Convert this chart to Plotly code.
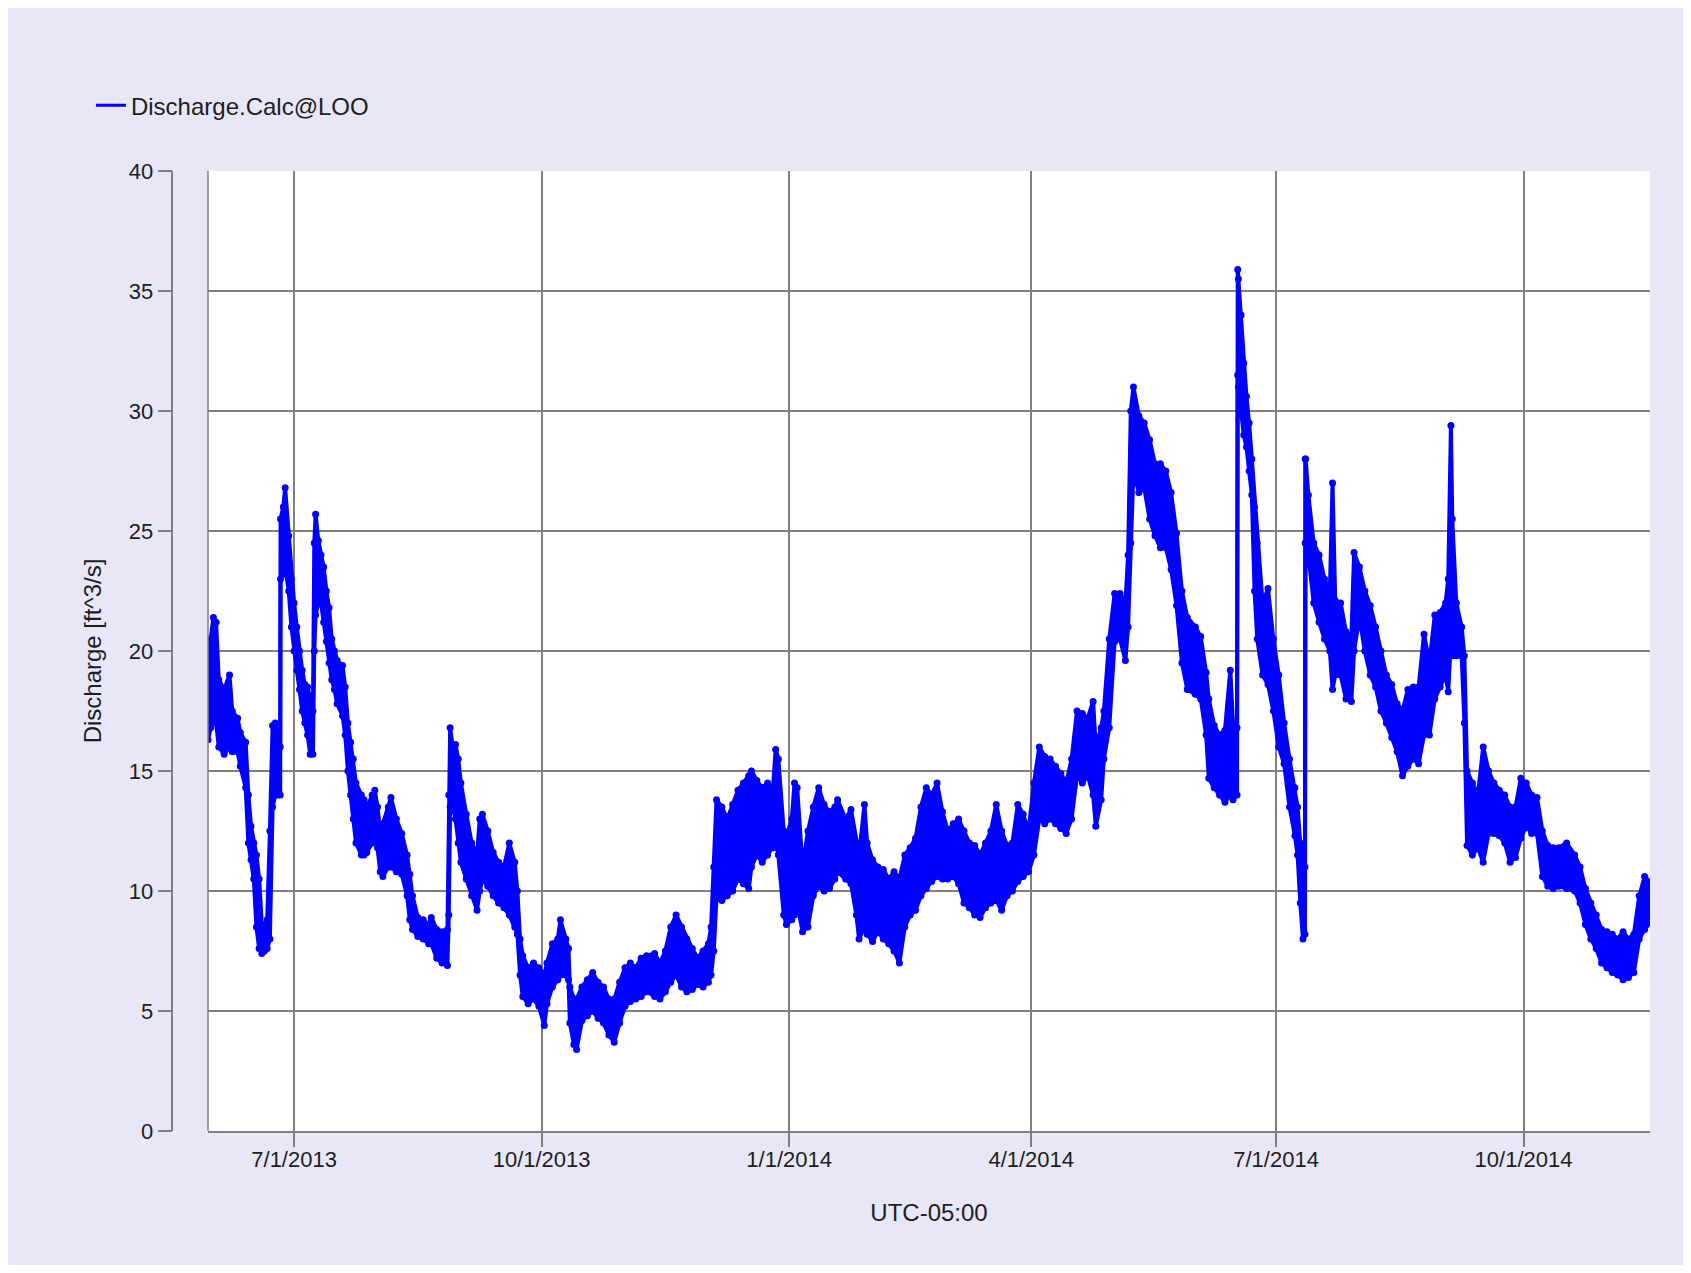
import plotly.graph_objects as go

# Discharge envelope (upper / lower of the daily swing)
dates = [
    "2013-05-30", "2013-05-31", "2013-06-01", "2013-06-02", "2013-06-03", "2013-06-05", "2013-06-07", "2013-06-08",
    "2013-06-10", "2013-06-11", "2013-06-13", "2013-06-14", "2013-06-15", "2013-06-16", "2013-06-17", "2013-06-18",
    "2013-06-19", "2013-06-20", "2013-06-21", "2013-06-22", "2013-06-23", "2013-06-24", "2013-06-25",
    "2013-06-25 20:00", "2013-06-25 23:00", "2013-06-27", "2013-06-27 16:00", "2013-06-29", "2013-06-30",
    "2013-07-01", "2013-07-02", "2013-07-03", "2013-07-04", "2013-07-05", "2013-07-06", "2013-07-07", "2013-07-08",
    "2013-07-08 12:00", "2013-07-09", "2013-07-10", "2013-07-11", "2013-07-12", "2013-07-13", "2013-07-14",
    "2013-07-15", "2013-07-16", "2013-07-17", "2013-07-19", "2013-07-20", "2013-07-21", "2013-07-22", "2013-07-23",
    "2013-07-24", "2013-07-26", "2013-07-27", "2013-07-28", "2013-07-30", "2013-07-31",
    "2013-08-01", "2013-08-02", "2013-08-03", "2013-08-05", "2013-08-06", "2013-08-08", "2013-08-10", "2013-08-12",
    "2013-08-13", "2013-08-14", "2013-08-16", "2013-08-18", "2013-08-20", "2013-08-21", "2013-08-23", "2013-08-25",
    "2013-08-27", "2013-08-27 12:00", "2013-08-28", "2013-08-29", "2013-08-30", "2013-08-31",
    "2013-09-01", "2013-09-03", "2013-09-05", "2013-09-07", "2013-09-08", "2013-09-09", "2013-09-11", "2013-09-13",
    "2013-09-15", "2013-09-17", "2013-09-19", "2013-09-21", "2013-09-22", "2013-09-23", "2013-09-24", "2013-09-26",
    "2013-09-28", "2013-09-30",
    "2013-10-02", "2013-10-03", "2013-10-05", "2013-10-07", "2013-10-08", "2013-10-10", "2013-10-11",
    "2013-10-11 12:00", "2013-10-13", "2013-10-14", "2013-10-16", "2013-10-18", "2013-10-20", "2013-10-22",
    "2013-10-24", "2013-10-26", "2013-10-28", "2013-10-30",
    "2013-11-01", "2013-11-03", "2013-11-05", "2013-11-07", "2013-11-09", "2013-11-12", "2013-11-14", "2013-11-16",
    "2013-11-18", "2013-11-20", "2013-11-22", "2013-11-24", "2013-11-26", "2013-11-28", "2013-11-30",
    "2013-12-02", "2013-12-03", "2013-12-04", "2013-12-05", "2013-12-07", "2013-12-09", "2013-12-11", "2013-12-13",
    "2013-12-15", "2013-12-17", "2013-12-18", "2013-12-20", "2013-12-22", "2013-12-24", "2013-12-26", "2013-12-27",
    "2013-12-28", "2013-12-30", "2013-12-31",
    "2014-01-02", "2014-01-03", "2014-01-04", "2014-01-06", "2014-01-08", "2014-01-10", "2014-01-12", "2014-01-14",
    "2014-01-16", "2014-01-18", "2014-01-19", "2014-01-22", "2014-01-24", "2014-01-26", "2014-01-27", "2014-01-29",
    "2014-01-30",
    "2014-02-01", "2014-02-03", "2014-02-05", "2014-02-07", "2014-02-09", "2014-02-11", "2014-02-13", "2014-02-15",
    "2014-02-17", "2014-02-19", "2014-02-21", "2014-02-23", "2014-02-25", "2014-02-27",
    "2014-03-01", "2014-03-03", "2014-03-05", "2014-03-07", "2014-03-09", "2014-03-11", "2014-03-13", "2014-03-15",
    "2014-03-17", "2014-03-19", "2014-03-21", "2014-03-23", "2014-03-25", "2014-03-27", "2014-03-29", "2014-03-31",
    "2014-04-02", "2014-04-04", "2014-04-06", "2014-04-08", "2014-04-10", "2014-04-12", "2014-04-14", "2014-04-16",
    "2014-04-18", "2014-04-20", "2014-04-22", "2014-04-24", "2014-04-25", "2014-04-27", "2014-04-28", "2014-04-30",
    "2014-05-02", "2014-05-04", "2014-05-06", "2014-05-07", "2014-05-08", "2014-05-09", "2014-05-11", "2014-05-13",
    "2014-05-15", "2014-05-17", "2014-05-19", "2014-05-21", "2014-05-23", "2014-05-25", "2014-05-27", "2014-05-29",
    "2014-06-01", "2014-06-03", "2014-06-05", "2014-06-06", "2014-06-08", "2014-06-10", "2014-06-12", "2014-06-14",
    "2014-06-15", "2014-06-16 12:00", "2014-06-16 18:00", "2014-06-17", "2014-06-18", "2014-06-19", "2014-06-20",
    "2014-06-21", "2014-06-22", "2014-06-23", "2014-06-24", "2014-06-26", "2014-06-28", "2014-06-30",
    "2014-07-02", "2014-07-04", "2014-07-06", "2014-07-08", "2014-07-09", "2014-07-10", "2014-07-11",
    "2014-07-11 18:00", "2014-07-11 20:00", "2014-07-12", "2014-07-13", "2014-07-15", "2014-07-17", "2014-07-19",
    "2014-07-21", "2014-07-22", "2014-07-23", "2014-07-25", "2014-07-27", "2014-07-29", "2014-07-30",
    "2014-08-01", "2014-08-03", "2014-08-05", "2014-08-07", "2014-08-09", "2014-08-11", "2014-08-13", "2014-08-15",
    "2014-08-17", "2014-08-19", "2014-08-21", "2014-08-23", "2014-08-25", "2014-08-27", "2014-08-29", "2014-08-31",
    "2014-09-02", "2014-09-03", "2014-09-04 00:00", "2014-09-04 12:00", "2014-09-06", "2014-09-08", "2014-09-09",
    "2014-09-10", "2014-09-12", "2014-09-14", "2014-09-16", "2014-09-18", "2014-09-20", "2014-09-22", "2014-09-24",
    "2014-09-26", "2014-09-28", "2014-09-30",
    "2014-10-02", "2014-10-04", "2014-10-06", "2014-10-08", "2014-10-10", "2014-10-12", "2014-10-14", "2014-10-17",
    "2014-10-20", "2014-10-22", "2014-10-24", "2014-10-26", "2014-10-28", "2014-10-30",
    "2014-11-01", "2014-11-03", "2014-11-05", "2014-11-07", "2014-11-09", "2014-11-11", "2014-11-13", "2014-11-15",
    "2014-11-18",
]

q_high = [
    20.0, 20.5, 21.4, 21.2, 18.8, 18.4, 19.0, 17.5, 17.2, 16.6, 16.2, 14.0, 12.7, 12.0, 11.5, 10.5,
    8.6, 8.3, 8.8, 12.5, 16.9, 17.0, 16.5, 16.0, 25.5, 26.0, 26.8, 24.8, 23.0,
    22.0, 21.0, 20.0, 19.2, 18.6, 18.5, 18.0, 17.5, 24.5, 25.7, 24.6, 24.0, 23.5, 22.5, 21.8,
    20.5, 20.0, 19.6, 19.4, 18.5, 17.0, 16.2, 15.5, 14.5, 14.0, 13.8, 13.5, 14.0, 14.2,
    13.5, 12.5, 12.8, 13.5, 13.9, 13.0, 12.4, 11.5, 10.7, 9.8, 8.9, 8.8, 8.6, 8.9, 8.4, 8.3,
    8.4, 14.0, 16.8, 16.0, 16.1, 15.5,
    14.5, 13.2, 12.0, 11.5, 13.0, 13.2, 12.5, 11.6, 11.2, 11.0, 12.0, 11.2, 10.0, 8.0, 7.3, 6.8,
    7.0, 6.8,
    6.5, 7.0, 7.8, 8.0, 8.8, 8.0, 7.6, 6.0, 5.5, 5.5, 6.0, 6.3, 6.6, 6.2, 6.0, 5.5, 5.5, 6.2,
    6.8, 7.0, 6.8, 7.2, 7.3, 7.4, 7.0, 7.5, 8.5, 9.0, 8.5, 8.0, 7.6, 7.2, 7.5,
    7.8, 8.5, 11.0, 13.8, 13.5, 13.0, 13.6, 14.2, 14.5, 14.8, 15.0, 14.6, 14.3, 14.5, 14.3, 15.9,
    15.5, 12.5, 12.3,
    13.0, 14.5, 14.3, 11.0, 12.5, 13.5, 14.3, 13.6, 13.3, 13.5, 13.8, 13.0, 13.4, 12.0, 11.5, 13.6,
    12.0,
    11.3, 11.0, 10.9, 10.5, 10.8, 10.5, 11.5, 11.8, 12.2, 13.5, 14.3, 14.0, 14.5, 13.3,
    12.5, 12.8, 13.0, 12.5, 12.0, 11.9, 11.5, 12.0, 12.5, 13.6, 12.5, 11.9, 12.0, 13.6, 13.2, 12.5,
    14.5, 16.0, 15.6, 15.5, 15.2, 14.9, 14.5, 15.5, 17.5, 17.4, 17.2, 17.9, 16.0, 16.8, 17.5, 20.5,
    22.4, 22.4, 22.0, 24.0, 30.0, 31.0, 29.8, 29.5, 28.8, 27.8, 27.8, 27.5, 26.6, 24.9, 22.5, 21.4,
    21.0, 20.6, 19.1, 18.0, 16.9, 16.5, 16.7, 19.2, 17.0, 16.8, 35.9, 35.5, 34.0, 32.0, 30.6,
    29.5, 28.0, 26.0, 24.5, 22.0, 22.6, 20.5,
    19.0, 17.0, 15.5, 14.3, 13.5, 12.0, 11.4, 11.0, 28.0, 28.0, 26.5, 24.5, 24.0, 23.0,
    22.5, 27.0, 22.1, 22.0, 20.8, 20.6, 24.1,
    23.5, 22.5, 21.9, 21.0, 20.0, 19.0, 18.6, 17.8, 17.5, 18.4, 18.5, 18.5, 20.7, 19.5, 21.5, 21.6,
    22.0, 23.0, 29.4, 25.5, 22.0, 21.0, 19.8, 15.0, 14.5, 14.0, 16.0, 15.0, 14.5, 14.2, 14.0,
    13.5, 13.5, 14.7,
    14.5, 14.0, 13.9, 12.5, 11.9, 11.8, 11.8, 12.0, 11.5, 11.0, 10.1, 9.5, 9.0, 8.4,
    8.3, 8.2, 8.0, 8.3, 8.0, 8.2, 9.8, 10.6, 10.3,
]

q_low = [
    16.3, 16.8, 17.3, 17.0, 16.0, 15.7, 16.0, 15.8, 15.8, 15.2, 14.3, 12.0, 11.3, 10.5, 8.5, 7.6,
    7.4, 7.5, 7.6, 8.0, 13.5, 14.0, 14.0, 14.0, 23.0, 23.2, 23.5, 22.5, 21.0,
    20.0, 19.2, 18.4, 17.5, 17.0, 16.5, 15.7, 15.7, 20.0, 21.5, 22.0, 22.0, 21.2, 20.4, 19.5,
    18.8, 18.4, 17.8, 17.3, 16.5, 15.0, 14.0, 13.0, 12.0, 11.5, 11.5, 11.6, 12.0, 12.2,
    11.8, 10.8, 10.6, 11.0, 11.0, 10.8, 10.7, 9.8, 8.8, 8.4, 8.1, 8.0, 7.8, 7.8, 7.2, 7.0,
    6.9, 9.0, 13.5, 13.5, 13.0, 12.0,
    11.2, 10.5, 9.8, 9.2, 10.0, 10.5, 10.2, 9.8, 9.5, 9.3, 9.0, 8.5, 8.2, 6.5, 5.6, 5.3,
    5.5, 5.2,
    4.4, 5.3, 6.0, 6.3, 6.5, 6.5, 6.3, 4.5, 3.6, 3.4, 4.6, 4.8, 5.0, 4.7, 4.5, 4.0, 3.7, 4.5,
    5.2, 5.4, 5.5, 5.6, 5.8, 5.6, 5.5, 5.8, 6.2, 6.5, 6.0, 5.8, 5.9, 6.1, 6.0,
    6.2, 6.5, 7.5, 9.7, 9.6, 9.8, 10.0, 10.5, 10.3, 10.1, 11.0, 11.5, 11.2, 11.5, 11.8, 12.0,
    11.5, 9.0, 8.6,
    8.8, 9.0, 9.5, 8.3, 8.5, 9.8, 10.2, 10.0, 10.1, 10.5, 10.8, 10.5, 10.3, 9.0, 8.0, 8.5,
    8.2,
    7.9, 8.3, 8.0, 7.8, 7.5, 7.0, 8.5, 9.0, 9.2, 9.8, 10.1, 10.4, 10.6, 10.5,
    10.5, 10.6, 10.3, 9.5, 9.3, 9.0, 8.9, 9.3, 9.5, 9.6, 9.2, 9.8, 10.0, 10.4, 10.6, 10.8,
    11.5, 13.0, 12.8, 13.0, 12.8, 12.6, 12.4, 13.0, 14.8, 14.5, 14.8, 14.0, 12.7, 13.8, 15.5, 16.8,
    20.4, 20.5, 19.6, 21.0, 24.5, 27.5, 26.6, 26.8, 25.5, 24.8, 24.3, 24.3, 23.4, 21.9, 19.5, 18.4,
    18.2, 18.0, 16.5, 14.7, 14.3, 14.0, 13.7, 14.0, 13.8, 14.0, 31.5, 31.0, 30.0, 29.0, 28.5,
    27.5, 26.5, 22.5, 20.5, 19.0, 18.6, 17.5,
    16.0, 15.3, 13.5, 12.3, 11.5, 9.5, 8.0, 8.2, 24.5, 24.5, 24.0, 22.0, 21.2, 20.5,
    20.0, 18.4, 19.0, 19.0, 18.0, 17.9, 20.0,
    21.4, 20.0, 19.0, 18.5, 17.5, 17.0, 16.4, 15.8, 14.8, 15.2, 15.5, 15.3, 16.5, 16.5, 18.0, 18.5,
    19.0, 18.3, 20.5, 19.8, 19.8, 19.8, 17.0, 11.9, 11.5, 11.8, 11.2, 12.4, 12.4, 12.3, 12.0,
    11.2, 11.4, 12.2,
    12.7, 12.4, 12.4, 10.6, 10.2, 10.1, 10.2, 10.1, 10.0, 9.5, 8.6, 8.0, 7.6, 7.0,
    6.8, 6.6, 6.5, 6.3, 6.4, 6.6, 8.0, 8.4, 8.8,
]

assert len(dates) == len(q_high) == len(q_low), (len(dates), len(q_high), len(q_low))

tick_dates = ["2013-07-01", "2013-10-01", "2014-01-01", "2014-04-01", "2014-07-01", "2014-10-01"]
tick_labels = ["7/1/2013", "10/1/2013", "1/1/2014", "4/1/2014", "7/1/2014", "10/1/2014"]
y_ticks = [0, 5, 10, 15, 20, 25, 30, 35, 40]

BLUE = "#0000FF"
GRID = "#808080"
TEXT = "#1e1e1e"
FONT = "Liberation Sans, Arial, sans-serif"

fig = go.Figure()

# lower edge of the band
fig.add_trace(go.Scatter(
    x=dates, y=q_low, mode="lines+markers",
    line=dict(color=BLUE, width=4), marker=dict(color=BLUE, size=7),
    showlegend=False, hoverinfo="skip",
))
# upper edge, filled down to the lower edge
fig.add_trace(go.Scatter(
    x=dates, y=q_high, mode="lines+markers", fill="tonexty", fillcolor=BLUE,
    line=dict(color=BLUE, width=4), marker=dict(color=BLUE, size=7),
    showlegend=False, hoverinfo="skip",
))
# legend entry
fig.add_trace(go.Scatter(
    x=[None], y=[None], mode="lines", line=dict(color=BLUE, width=3),
    name="Discharge.Calc@LOO",
))

fig.update_layout(
    width=1675, height=1257,
    margin=dict(l=160, r=33, t=163, b=134),
    paper_bgcolor="#E7E7F8",
    plot_bgcolor="white",
    font=dict(family=FONT, size=22, color=TEXT),
    showlegend=True,
    legend=dict(
        x=-0.052, y=1.068, xanchor="left", yanchor="middle",
        bgcolor="rgba(0,0,0,0)", font=dict(size=24, color=TEXT),
    ),
    xaxis=dict(
        type="date", range=["2013-05-30", "2014-11-17"], domain=[0.027, 1],
        tickvals=tick_dates, ticktext=tick_labels, tickfont=dict(size=22),
        ticks="outside", ticklen=14, tickcolor=GRID, tickwidth=1.5, ticklabelstandoff=-6,
        showgrid=True, gridcolor=GRID, gridwidth=1.5,
        showline=True, linecolor=GRID, linewidth=1.5, zeroline=False,
        title=dict(text="UTC-05:00", standoff=33, font=dict(size=24)),
    ),
    yaxis=dict(
        range=[0, 40], tickvals=y_ticks, tickfont=dict(size=22),
        anchor="free", position=0.003,
        ticks="outside", ticklen=14, tickcolor=GRID, tickwidth=1.5,
        showgrid=True, gridcolor=GRID, gridwidth=1.5,
        showline=True, linecolor=GRID, linewidth=1.5, zeroline=False,
        title=dict(text="Discharge [ft^3/s]", standoff=19, font=dict(size=24)),
    ),
)

# left edge of the plotting area
fig.add_shape(type="line", xref="x domain", yref="y domain", x0=0, x1=0, y0=0, y1=1,
              line=dict(color=GRID, width=1.5))

fig.write_html("out.html", config={"displayModeBar": False})
